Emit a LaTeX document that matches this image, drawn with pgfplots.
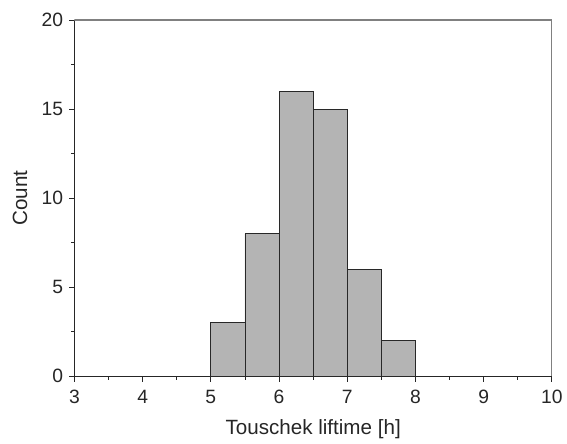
\documentclass[border=0pt]{standalone}
\usepackage{pgfplots}
\pgfplotsset{compat=1.18}
\usepackage{fontspec}
\setmainfont{Liberation Sans}
\definecolor{barfill}{RGB}{180,180,180}
\definecolor{baredge}{RGB}{40,40,40}
\definecolor{frame}{RGB}{128,128,128}
\begin{document}
\begin{tikzpicture}
\begin{axis}[
  width=359pt, height=268pt, scale only axis,
  xmin=3, xmax=10, ymin=0, ymax=20,
  xtick={3,4,...,10}, ytick={0,5,10,15,20},
  minor x tick num=1, minor y tick num=1,
  axis x line*=bottom, axis y line*=left,
  axis line style={-, black!85, line width=0.7pt},
  tick align=outside,
  major tick length=4pt, minor tick length=2.5pt,
  tick style={black!85, line width=0.6pt},
  /pgf/number format/assume math mode=true,
  ticklabel style={font=\fontsize{14.5}{16}\selectfont, text=black!85},
  yticklabel style={xshift=-1pt},
  xticklabel style={yshift=-3pt},
  label style={font=\fontsize{15.5}{17}\selectfont, text=black!85},
  xlabel={Touschek liftime [h]},
  ylabel={Count},
  xlabel style={yshift=-5pt},
  ylabel style={yshift=4pt},
]
\addplot[ybar interval, fill=barfill, draw=baredge, line width=0.6pt]
  coordinates {(5,3) (5.5,8) (6,16) (6.5,15) (7,6) (7.5,2) (8,2)};
\draw[frame, line width=1.1pt] (rel axis cs:0,1) -- (rel axis cs:1,1) -- (rel axis cs:1,0);
\end{axis}
\path ([yshift=15pt]current axis.north);
\path ([xshift=-56pt]current axis.west);
\end{tikzpicture}
\end{document}
